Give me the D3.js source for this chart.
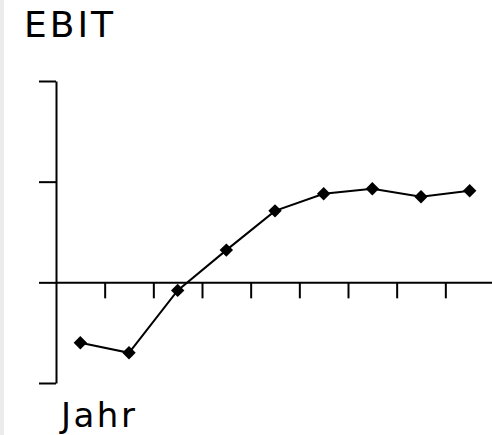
<!DOCTYPE html>
<html>
<head>
<meta charset="utf-8">
<script src="https://cdn.jsdelivr.net/npm/d3@7"></script>
<style>
    body { margin: 0; background: #fff; }
    svg { display: block; }
    text { font-family: 'DejaVu Sans', Verdana, sans-serif; fill: #000; }
</style>
</head>
<body>
<svg id="chart" width="492" height="435"></svg>
<script>
// EBIT per Jahr (keine Beschriftungen im Original)
var jahre = ['1', '2', '3', '4', '5', '6', '7', '8', '9']
var ebit = [-0.60, -0.70, -0.08, 0.32, 0.71, 0.88, 0.93, 0.85, 0.91]
var yTicks = [-1, 0, 1, 2]

var svg = d3.select('#chart')

svg.append('rect')
    .attr('x', 0).attr('y', 0)
    .attr('width', 4).attr('height', 435)
    .style('fill', '#ebebeb')

var xScale = d3.scaleBand()
    .domain(jahre)
    .range([56, 494])
    .paddingInner(0).paddingOuter(0)

var xBound = d3.scaleLinear()
    .domain([0, jahre.length])
    .range([56, 494])

var yScale = d3.scaleLinear()
    .domain([-1, 2])
    .range([383, 81])

// x axis: ticks at band boundaries
var xAxis = svg.append('g')
    .attr('transform', 'translate(0,' + yScale(0) + ')')
    .call(d3.axisBottom(xBound)
        .tickValues(d3.range(1, jahre.length + 1))
        .tickSize(16)
        .tickSizeOuter(0)
        .tickFormat(''))

var yAxis = svg.append('g')
    .attr('transform', 'translate(56,0)')
    .call(d3.axisLeft(yScale)
        .tickValues(yTicks)
        .tickSize(17)
        .tickSizeOuter(0)
        .tickFormat(''))

svg.selectAll('.domain, .tick line')
    .style('stroke', '#000')
    .style('stroke-width', 2)

var line = d3.line()
    .x(function (d, i) { return xScale(jahre[i]) + xScale.bandwidth() / 2 })
    .y(function (d) { return yScale(d) })

svg.append('path')
    .datum(ebit)
    .attr('d', line)
    .style('fill', 'none')
    .style('stroke', '#000')
    .style('stroke-width', 2)

svg.selectAll('.marker')
    .data(ebit)
    .enter()
    .append('path')
    .attr('class', 'marker')
    .attr('d', d3.symbol().type(d3.symbolSquare).size(90))
    .attr('transform', function (d, i) {
        return 'translate(' + (xScale(jahre[i]) + xScale.bandwidth() / 2) + ',' + yScale(d) + ') rotate(45)'
    })
    .style('fill', '#000')

svg.append('text')
    .attr('x', 24).attr('y', 37)
    .style('font-size', '36px')
    .style('letter-spacing', '3px')
    .text('EBIT')

svg.append('text')
    .attr('x', 61).attr('y', 427)
    .style('font-size', '34px')
    .style('letter-spacing', '2.5px')
    .text('Jahr')
</script>
</body>
</html>
